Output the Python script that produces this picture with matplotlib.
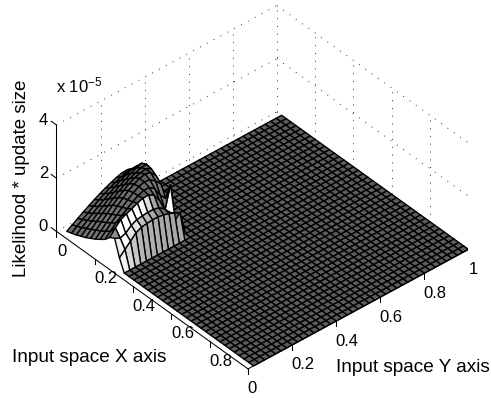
import numpy as np
import matplotlib
matplotlib.use("Agg")
import matplotlib.pyplot as plt
from mpl_toolkits.mplot3d import proj3d

plt.rcParams['font.family'] = ['Liberation Sans', 'DejaVu Sans']
plt.rcParams['mathtext.default'] = 'regular'

# ---- data (z in units of 1e-5) ----
grid_count = 40
x_ticks = [0, 0.2, 0.4, 0.6, 0.8]
x_tick_labels = ['0', '0.2', '0.4', '0.6', '0.8']
y_ticks = [0, 0.2, 0.4, 0.6, 0.8, 1]
y_tick_labels = ['0', '0.2', '0.4', '0.6', '0.8', '1']
z_ticks = [0, 2, 4]
z_tick_labels = ['0', '2', '4']
# non-zero patch: rows = x index 1.., columns = y index 1..
hump = [
    [.02, .15, .28, .41, .53, .65, .76, .86, .95, 1.03, 1.09, 1.10],
    [.08, .22, .36, .50, .64, .77, .89, 1.0, 1.09, 1.18, 1.25, 1.27],
    [.14, .30, .46, .61, .76, .90, 1.03, 1.16, 1.28, 1.38, 1.47, 1.50],
    [.22, .40, .57, .74, .90, 1.06, 1.20, 1.33, 1.45, 1.56, 1.66, 1.73],
    [.30, .50, .69, .87, 1.05, 1.22, 1.37, 1.50, 1.62, 1.72, 1.80, 1.82],
    [.40, .60, .80, 1.0, 1.20, 1.37, 1.53, 1.67, 1.78, 1.85, 1.88, 1.78],
    [.50, .70, .90, 1.10, 1.30, 1.48, 1.65, 1.78, 1.88, 1.93, 1.88, 1.65],
    [.62, .82, 1.02, 1.20, 1.38, 1.55, 1.70, 1.82, 1.88, 1.85, 1.70, 1.47],
    [.75, .95, 1.15, 1.30, 1.45, 1.60, 1.72, 1.80, 1.80, 1.65, 1.30, 1.05],
    [.95, 1.20, 1.40, 1.50, 1.58, 1.68, 1.75, 1.77, 1.65, 1.34, .85, 1.70],
    [1.05, .95, 1.02, 1.20, 1.30, 1.33, 1.35, 1.35, 1.30, 1.15, .90, .50],
    [.45, .65, .85, 1.05, 1.15, 1.18, 1.20, 1.20, 1.16, 1.10, 1.00, .90],
]

# ---- surface ----
axis_nodes = np.arange(1, grid_count + 1) / grid_count
X, Y = np.meshgrid(axis_nodes, axis_nodes, indexing='ij')
Z = np.zeros_like(X)
patch = np.array(hump)
Z[:patch.shape[0], :patch.shape[1]] = patch

W, H, DPI = 491, 398, 100
fig = plt.figure(figsize=(W / DPI, H / DPI), dpi=DPI, facecolor='white')
ax = fig.add_axes([0.1, 0.1, 0.8, 0.8], projection='3d', proj_type='ortho', computed_zorder=False)
ax.view_init(elev=38.6, azim=-41)
ax.set_box_aspect((1, 1, 0.466), zoom=1)
ax.set_xlim(0, 1, view_margin=0)
ax.set_ylim(0, 1, view_margin=0)
ax.set_zlim(0, 4, view_margin=0)
ax.set_axis_off()
ax.patch.set_alpha(0)


def to_px(x, y, z):
    ax.apply_aspect()
    px, py, _ = proj3d.proj_transform(x, y, z, ax.get_proj())
    a, b = ax.transData.transform((px, py))
    return a, H - b


# fit the axes box so that the box corners land on the wanted pixels
anchor_3d = [(0, 0, 0), (1, 0, 0), (1, 1, 0), (0, 1, 0), (0, 0, 4), (0, 1, 4)]
anchor_px = np.array([(57, 231), (248, 368), (468, 249), (277, 112), (56, 125), (277, 7)], float)
for _ in range(3):
    now = np.array([to_px(*p) for p in anchor_3d])
    k = np.ptp(anchor_px[:, 0]) / np.ptp(now[:, 0])
    pos = ax.get_position(original=True)
    side = pos.width * W * k
    cx_now, cy_now = now.mean(axis=0)
    cx_t, cy_t = anchor_px.mean(axis=0)
    ccx = pos.x0 * W + pos.width * W / 2
    ccy = H - (pos.y0 * H + pos.height * H / 2)
    new_cx = cx_t + (ccx - cx_now) * k
    new_cy = cy_t + (ccy - cy_now) * k
    ax.set_position([(new_cx - side / 2) / W, (H - new_cy - side / 2) / H, side / W, side / H])

# face shading
dzdx = (Z[1:, :-1] + Z[1:, 1:] - Z[:-1, :-1] - Z[:-1, 1:]) / 2 * (0.466 / 4) * grid_count
dzdy = (Z[:-1, 1:] + Z[1:, 1:] - Z[:-1, :-1] - Z[1:, :-1]) / 2 * (0.466 / 4) * grid_count
norm = np.sqrt(dzdx ** 2 + dzdy ** 2 + 1)
nx, ny, nz = -dzdx / norm, -dzdy / norm, 1 / norm
light = np.array([0.8, -0.4, 0.55])
light = light / np.linalg.norm(light)
shade = nx * light[0] + ny * light[1] + nz * light[2]
base = shade[-1, -1]
delta = shade - base
gray = (0.36 + np.maximum(delta, 0) ** 3 * 6.0 + np.minimum(delta, 0) * 0.1
        + np.minimum((1 - nz) * 0.35, 0.12))
gray = np.clip(gray, 0.3, 1.0)
faces = np.dstack([gray, gray, gray, np.ones_like(gray)])

# back walls: dotted grid
dots = dict(color='#333333', lw=0.7, ls=(0, (1, 7)), zorder=1)
for zv in [0, 2, 4]:
    ax.plot([0, 0], [0, 1], [zv, zv], **dots)
    ax.plot([0, 1], [1, 1], [zv, zv], **dots)
for yv in y_ticks[1:]:
    ax.plot([0, 0], [yv, yv], [0, 4], **dots)
for xv in x_ticks[1:]:
    ax.plot([xv, xv], [1, 1], [0, 4], **dots)

ax.plot_surface(X, Y, Z, rstride=1, cstride=1, facecolors=faces, shade=False,
                edgecolor='black', linewidth=1.0, antialiased=True, zorder=2)

# axis lines and ticks
solid = dict(color='black', lw=0.75, zorder=3)
ax.plot([0, 1], [0, 0], [0, 0], **solid)
ax.plot([1, 1], [0, 1], [0, 0], **solid)
ax.plot([0, 0], [0, 0], [0, 4], **solid)
for xv in x_ticks + [1]:
    ax.plot([xv, xv], [0, 0], [0, -0.2], **solid)
for yv in y_ticks:
    ax.plot([1, 1], [yv, yv], [0, -0.2], **solid)
for zv in z_ticks:
    ax.plot([0, -0.027], [0, 0], [zv, zv], **solid)

FS = 12


def label_at(x_px, y_px, s, **kw):
    kw.setdefault('fontsize', FS)
    kw.setdefault('ha', 'center')
    kw.setdefault('va', 'center')
    return fig.text(x_px / W, 1 - y_px / H, s, **kw)


for xv, s in zip(x_ticks, x_tick_labels):
    a, b = to_px(xv, 0, 0)
    label_at(a + (6 if s == '0' else 11), b + 20, s)
for yv, s in zip(y_ticks, y_tick_labels):
    a, b = to_px(1, yv, 0)
    dx = {'1': 5, '0': 4}.get(s, 11)
    label_at(a + dx, b + 20, s)
for zv, s in zip(z_ticks, z_tick_labels):
    a, b = to_px(0, 0, zv)
    label_at(a - 13, b - 5, s)

label_at(56, 85, r'x 10$^{-5}$', ha='left')
label_at(22, 178, 'Likelihood * update size', rotation=90, fontsize=13.5)
label_at(12, 357, 'Input space X axis', ha='left', fontsize=13.7)
label_at(336, 367, 'Input space Y axis', ha='left', fontsize=13.7)

fig.savefig('out.png', dpi=DPI, facecolor='white')
